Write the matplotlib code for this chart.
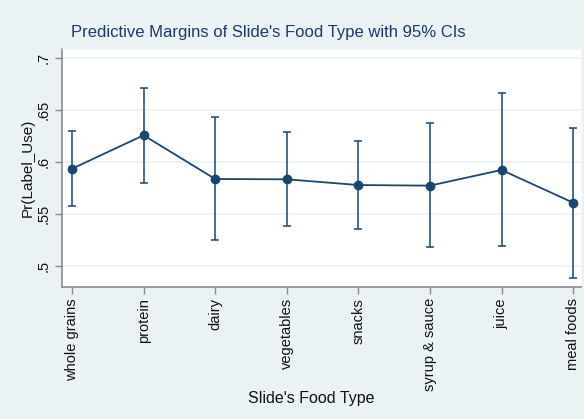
import matplotlib.pyplot as plt
import numpy as np

plt.rcParams['font.family'] = ['Liberation Sans', 'DejaVu Sans']

# predictive margins with 95% confidence bounds
food_types = ["whole grains", "protein", "dairy", "vegetables",
              "snacks", "syrup & sauce", "juice", "meal foods"]
margin = [0.5937, 0.6259, 0.5838, 0.5835, 0.5780, 0.5774, 0.5925, 0.5610]
ci_low = [0.5578, 0.5803, 0.5250, 0.5382, 0.5356, 0.5180, 0.5190, 0.4888]
ci_high = [0.6303, 0.6715, 0.6435, 0.6291, 0.6204, 0.6381, 0.6664, 0.6332]
y_ticks = [0.5, 0.55, 0.6, 0.65, 0.7]
y_tick_labels = [".5", ".55", ".6", ".65", ".7"]

bg = "#eaf2f3"
navy = "#1a476f"

fig = plt.figure(figsize=(5.84, 4.19), dpi=100, facecolor=bg)
ax = fig.add_axes([62 / 584, 1 - 287 / 419, (581 - 62) / 584, (287 - 49) / 419])
ax.set_facecolor("white")

x = np.arange(len(food_types))
m = np.array(margin)
yerr = [m - np.array(ci_low), np.array(ci_high) - m]

ax.errorbar(x, m, yerr=yerr, fmt="none", ecolor=navy, elinewidth=1.1,
            capsize=3, capthick=1.1, zorder=3)
ax.plot(x, m, color=navy, lw=1.3, marker="o", ms=6, zorder=4)

ax.set_xlim(-0.14, 7.11)
ax.set_ylim(0.4798, 0.709)
ax.set_yticks(y_ticks)
ax.set_yticklabels(y_tick_labels, rotation=90, va="center")
ax.set_xticks(x)
ax.set_xticklabels(food_types, rotation=90)
ax.grid(axis="y", color=bg, lw=1.2)
ax.set_axisbelow(True)

for side in ["left", "bottom"]:
    ax.spines[side].set_color("#8a8a8a")
    ax.spines[side].set_linewidth(1.2)
for side in ["top", "right"]:
    ax.spines[side].set_color("#f4f8f8")
ax.tick_params(axis="both", color="#8a8a8a", length=5, width=1,
               labelsize=10.5, labelcolor="#111111", pad=3)

ax.set_xlabel("Slide's Food Type", fontsize=11.5, color="#111111")
ax.xaxis.set_label_coords((311.5 - 62) / (581 - 62), -(398 - 287) / (287 - 49))
ax.xaxis.label.set_va("center")
ax.set_ylabel("Pr(Label_Use)", fontsize=11, color="#111111")
ax.yaxis.set_label_coords(-(62 - 28) / (581 - 62), 0.5)
ax.yaxis.label.set_va("center")

fig.text(268 / 584, 1 - 33 / 419, "Predictive Margins of Slide's Food Type with 95% CIs",
         ha="center", va="center", fontsize=12, color="#1e3a68")

fig.savefig("out.png", dpi=100, facecolor=bg)
